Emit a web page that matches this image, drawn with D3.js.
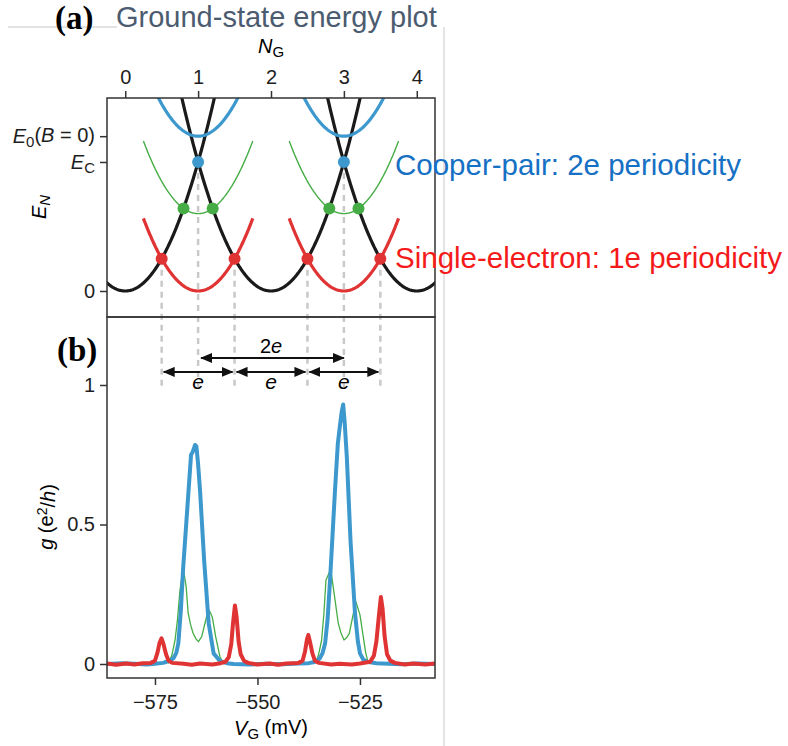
<!DOCTYPE html>
<html lang="en">
<head>
  <meta charset="UTF-8">
  <title>Ground-state energy plot</title>
  <script src="https://d3js.org/d3.v7.min.js"></script>
  <style>
    body { margin: 0; background: #fff; }
    svg { display: block; font-family: "Liberation Sans", Arial, sans-serif; }
    .axis text { font-size: 20px; fill: #1e1e1e; }
    .axis line { stroke: #333; stroke-width: 1.5; }
    .axis path { display: none; }
  </style>
</head>
<body>
<div id="chart"></div>
<script>
// ---- panel (a): charging-energy parabolas ----
const nTicks = [0, 1, 2, 3, 4];
const eTicks = [0, 1, 1.2];                 // 0, E_C, E_0(B=0)
const blackCentres = [0, 2, 4];             // even-parity ground state
const oddCentres = [1, 3];                  // odd / excited parabolas
const redOffset = 0, greenOffset = 0.6, blueOffset = 1.2;
const halfSpan = 0.75;                      // red & green branches drawn +-0.75
const blueDotsN = [1, 3];
const greenDotsN = [0.8, 1.2, 2.8, 3.2];
const redDotsN = [0.5, 1.5, 2.5, 3.5];
const dashN = [0.5, 1, 1.5, 2.5, 3, 3.5];

// ---- panel (b): conductance traces [V_G (mV), g (e^2/h)] ----
const vTicks = [-575, -550, -525];
const gTicks = [0, 0.5, 1];

const blueTrace = [
  [-586.7, 0.000], [-583, 0.003], [-580, 0.001], [-577, -0.002], [-575, 0.001],
  [-573, 0.004], [-572.2, 0.008], [-571.2, 0.013], [-570.5, 0.02], [-569.8, 0.04],
  [-569.3, 0.074], [-568.7, 0.19], [-568.1, 0.35], [-567.1, 0.56], [-566.2, 0.75],
  [-565.8, 0.76], [-565.2, 0.785], [-564.9, 0.78], [-564.5, 0.72], [-564.0, 0.62],
  [-563.0, 0.37], [-561.9, 0.146], [-560.7, 0.038], [-559.1, 0.01], [-557.5, 0.003],
  [-555.8, 0.000], [-552, -0.002], [-548, 0.001], [-544, -0.001], [-540, 0.002],
  [-537.5, 0.003], [-536.4, 0.006], [-535.5, 0.012], [-534.8, 0.02], [-534.1, 0.04],
  [-533.5, 0.074], [-532.9, 0.16], [-532.3, 0.30], [-531.1, 0.62], [-530.4, 0.79],
  [-530.0, 0.84], [-529.5, 0.90], [-529.1, 0.93], [-528.7, 0.86], [-528.2, 0.74],
  [-527.3, 0.44], [-526.2, 0.18], [-525.5, 0.08], [-525.0, 0.038], [-524.2, 0.016],
  [-523.3, 0.008], [-521, 0.003], [-518, 0.001], [-515, -0.001], [-511, 0.002],
  [-506.7, 0.000]
];

const greenPeakA = [
  [-571.75, 0.002], [-570.9, 0.03], [-570.1, 0.086], [-569.5, 0.16], [-568.9, 0.265],
  [-568.1, 0.343], [-567.4, 0.277], [-566.9, 0.182], [-566.3, 0.14], [-565.7, 0.11],
  [-565.0, 0.09], [-564.4, 0.08], [-563.6, 0.098], [-562.8, 0.146], [-562.0, 0.196],
  [-561.5, 0.185], [-561.0, 0.167], [-560.2, 0.098], [-559.15, 0.026], [-558.2, 0.0]
];
const greenPeakB = [
  [-535.6, 0.01], [-535.0, 0.04], [-534.35, 0.086], [-533.8, 0.18], [-533.3, 0.30],
  [-532.15, 0.34], [-531.3, 0.253], [-530.3, 0.146], [-529.6, 0.11], [-528.9, 0.086],
  [-528.2, 0.095], [-527.6, 0.11], [-526.6, 0.182], [-526.0, 0.223], [-525.0, 0.176],
  [-524.2, 0.098], [-523.6, 0.04], [-523.0, 0.005]
];

const redTrace = [
  [-586.7, 0.002], [-584.5, -0.003], [-582, 0.002], [-580, -0.002], [-578, 0.003],
  [-576, 0.004], [-575, 0.012], [-574.4, 0.04], [-573.9, 0.075], [-573.4, 0.092],
  [-572.9, 0.07], [-572.3, 0.035], [-571.7, 0.012], [-570.8, 0.004], [-568, 0.001],
  [-566, -0.003], [-564, 0.002], [-561, -0.002], [-559, 0.003], [-557.8, 0.008],
  [-557.0, 0.025], [-556.4, 0.07], [-556.0, 0.14], [-555.5, 0.21], [-555.1, 0.17],
  [-554.6, 0.08], [-554.1, 0.035], [-553.3, 0.012], [-552.3, 0.004], [-550, -0.002],
  [-547, 0.002], [-545, -0.003], [-543, 0.002], [-540, 0.004], [-539, 0.012],
  [-538.4, 0.045], [-537.9, 0.09], [-537.6, 0.104], [-537.2, 0.08], [-536.6, 0.038],
  [-536.0, 0.012], [-535, 0.004], [-532, -0.002], [-530, 0.001], [-527, -0.002],
  [-525, 0.002], [-522.5, 0.008], [-521.6, 0.03], [-521.0, 0.08], [-520.4, 0.17],
  [-519.9, 0.24], [-519.5, 0.2], [-519.0, 0.1], [-518.4, 0.035], [-517.6, 0.012],
  [-516.5, 0.004], [-514, -0.002], [-512, 0.002], [-509, -0.002], [-506.7, 0.002]
];

const colors = {
  black: '#1a1a1a', red: '#e03333', green: '#46ad46', blue: '#3d98cd',
  dash: '#c9c9c9', frame: '#333'
};

// Layout
const W = 788, H = 746;
const left = 107, right = 435;
const aTop = 98, aBottom = 317, bBottom = 678;

const svg = d3.select('#chart').append('svg')
  .attr('width', W).attr('height', H);

// Scales
const nScale = d3.scaleLinear().domain([-0.25, 4.25]).range([left, right]);
const eScale = d3.scaleLinear().domain([-0.2016, 1.496]).range([aBottom, aTop]);
const vScale = d3.scaleLinear().domain([-586.7, -506.7]).range([left, right]);
const gScale = d3.scaleLinear().domain([-0.0502, 1.2437]).range([bBottom, aBottom]);

// page decorations
svg.append('line').attr('x1', 8).attr('x2', 117).attr('y1', 27).attr('y2', 27)
  .attr('stroke', '#c8c8c8').attr('stroke-width', 1.2);
svg.append('line').attr('x1', 444).attr('x2', 444).attr('y1', 27).attr('y2', H)
  .attr('stroke', '#d2d2d2').attr('stroke-width', 1.2);

svg.append('text').attr('x', 55).attr('y', 29)
  .style('font-family', '"Liberation Serif", "Times New Roman", serif')
  .style('font-weight', 'bold').style('font-size', '33px').text('(a)');
svg.append('text').attr('x', 116).attr('y', 27)
  .style('font-size', '29px').attr('fill', '#4b5b70').text('Ground-state energy plot');
svg.append('text').attr('x', 57).attr('y', 361)
  .style('font-family', '"Liberation Serif", "Times New Roman", serif')
  .style('font-weight', 'bold').style('font-size', '33px').text('(b)');

// clip paths and arrow head
const defs = svg.append('defs');
defs.append('clipPath').attr('id', 'clipA').append('rect')
  .attr('x', left).attr('y', aTop).attr('width', right - left).attr('height', aBottom - aTop);
defs.append('clipPath').attr('id', 'clipB').append('rect')
  .attr('x', left).attr('y', aBottom).attr('width', right - left).attr('height', bBottom - aBottom);
defs.append('marker').attr('id', 'arrow')
  .attr('viewBox', '0 0 12 10').attr('refX', 11).attr('refY', 5)
  .attr('markerWidth', 12).attr('markerHeight', 10).attr('markerUnits', 'userSpaceOnUse')
  .attr('orient', 'auto-start-reverse')
  .append('path').attr('d', 'M0,0 L12,5 L0,10 Z').attr('fill', '#111');

// dashed guide lines from crossings down into panel (b)
svg.append('g').selectAll('line').data(dashN).join('line')
  .attr('x1', d => nScale(d)).attr('x2', d => nScale(d))
  .attr('y1', d => eScale(Number.isInteger(d) ? 1 : 0.25))
  .attr('y2', gScale(0.985))
  .attr('stroke', colors.dash).attr('stroke-width', 2.5).attr('stroke-dasharray', '6,5');

// ---- panel (a) curves ----
const gA = svg.append('g').attr('clip-path', 'url(#clipA)');
const eLine = d3.line().x(d => nScale(d[0])).y(d => eScale(d[1]));
const parabola = (c, off, lo, hi) =>
  d3.range(lo, hi + 1e-9, 0.01).map(n => [n, (n - c) ** 2 + off]);

blackCentres.forEach(c => {
  gA.append('path').attr('d', eLine(parabola(c, 0, c - 1.3, c + 1.3)))
    .attr('fill', 'none').attr('stroke', colors.black).attr('stroke-width', 3.2);
});
oddCentres.forEach(c => {
  gA.append('path').attr('d', eLine(parabola(c, greenOffset, c - halfSpan, c + halfSpan)))
    .attr('fill', 'none').attr('stroke', colors.green).attr('stroke-width', 1.4);
  gA.append('path').attr('d', eLine(parabola(c, blueOffset, c - 0.7, c + 0.7)))
    .attr('fill', 'none').attr('stroke', colors.blue).attr('stroke-width', 3.2);
  gA.append('path').attr('d', eLine(parabola(c, redOffset, c - halfSpan, c + halfSpan)))
    .attr('fill', 'none').attr('stroke', colors.red).attr('stroke-width', 3.2);
});

const dots = [
  ...blueDotsN.map(n => ({ n, e: 1, c: colors.blue })),
  ...greenDotsN.map(n => ({ n, e: (n - Math.round(n)) ** 2 + greenOffset, c: colors.green })),
  ...redDotsN.map(n => ({ n, e: 0.25, c: colors.red }))
];
gA.selectAll('circle').data(dots).join('circle')
  .attr('cx', d => nScale(d.n)).attr('cy', d => eScale(d.e)).attr('r', 6)
  .attr('fill', d => d.c);

// ---- panel (b) traces ----
const gB = svg.append('g').attr('clip-path', 'url(#clipB)');
const gLine = d3.line().x(d => vScale(d[0])).y(d => gScale(d[1]));
[greenPeakA, greenPeakB].forEach(tr => {
  gB.append('path').attr('d', gLine(tr)).attr('fill', 'none')
    .attr('stroke', colors.green).attr('stroke-width', 1.3).attr('stroke-linejoin', 'round');
});
gB.append('path').attr('d', gLine(blueTrace)).attr('fill', 'none')
  .attr('stroke', colors.blue).attr('stroke-width', 4).attr('stroke-linejoin', 'round');
gB.append('path').attr('d', gLine(redTrace)).attr('fill', 'none')
  .attr('stroke', colors.red).attr('stroke-width', 4).attr('stroke-linejoin', 'round');

// arrows
const eSpans = [[0.5, 1.5], [1.5, 2.5], [2.5, 3.5]];
const arrowG = svg.append('g');
arrowG.selectAll('line.e').data(eSpans).join('line')
  .attr('x1', d => nScale(d[0]) + 2).attr('x2', d => nScale(d[1]) - 2)
  .attr('y1', gScale(1.047)).attr('y2', gScale(1.047))
  .attr('stroke', '#111').attr('stroke-width', 2)
  .attr('marker-start', 'url(#arrow)').attr('marker-end', 'url(#arrow)');
arrowG.append('line')
  .attr('x1', nScale(1) + 3).attr('x2', nScale(3))
  .attr('y1', gScale(1.097)).attr('y2', gScale(1.097))
  .attr('stroke', '#111').attr('stroke-width', 2)
  .attr('marker-start', 'url(#arrow)').attr('marker-end', 'url(#arrow)');
arrowG.selectAll('text.e').data(eSpans).join('text')
  .attr('x', d => nScale((d[0] + d[1]) / 2)).attr('y', 389)
  .attr('text-anchor', 'middle').style('font-size', '21px').style('font-style', 'italic')
  .text('e');
const t2e = arrowG.append('text').attr('x', nScale(2)).attr('y', 353)
  .attr('text-anchor', 'middle').style('font-size', '20px');
t2e.append('tspan').text('2');
t2e.append('tspan').style('font-style', 'italic').text('e');

// frames
svg.append('rect').attr('x', left).attr('y', aTop).attr('width', right - left)
  .attr('height', aBottom - aTop).attr('fill', 'none').attr('stroke', colors.frame).attr('stroke-width', 1.5);
svg.append('rect').attr('x', left).attr('y', aBottom).attr('width', right - left)
  .attr('height', bBottom - aBottom).attr('fill', 'none').attr('stroke', colors.frame).attr('stroke-width', 1.5);

// axes
svg.append('g').attr('class', 'axis').attr('transform', `translate(0,${aTop})`)
  .call(d3.axisTop(nScale).tickValues(nTicks).tickSize(7).tickPadding(7).tickFormat(d3.format('d')));

const axA = svg.append('g').attr('class', 'axis').attr('transform', `translate(${left},0)`)
  .call(d3.axisLeft(eScale).tickValues(eTicks).tickSize(7).tickPadding(5).tickFormat(''));
axA.selectAll('.tick text').each(function (d) {
  const t = d3.select(this);
  if (d === 0) { t.text('0'); return; }
  if (d === 1) {
    t.append('tspan').style('font-style', 'italic').text('E');
    t.append('tspan').attr('dy', '0.25em').style('font-size', '15px').text('C');
    return;
  }
  t.append('tspan').style('font-style', 'italic').text('E');
  t.append('tspan').attr('dy', '0.25em').style('font-size', '15px').text('0');
  t.append('tspan').attr('dy', '-0.25em').text('(');
  t.append('tspan').style('font-style', 'italic').text('B');
  t.append('tspan').text(' = 0)');
});

svg.append('g').attr('class', 'axis').attr('transform', `translate(${left},0)`)
  .call(d3.axisLeft(gScale).tickValues(gTicks).tickSize(7).tickPadding(5)
    .tickFormat(d => (d === 0.5 ? '0.5' : d3.format('d')(d))));

svg.append('g').attr('class', 'axis').attr('transform', `translate(0,${bBottom})`)
  .call(d3.axisBottom(vScale).tickValues(vTicks).tickSize(7).tickPadding(10));

// axis titles
const nLab = svg.append('text').attr('x', nScale(2)).attr('y', 53)
  .attr('text-anchor', 'middle').style('font-size', '20px');
nLab.append('tspan').style('font-style', 'italic').text('N');
nLab.append('tspan').attr('dy', '0.25em').style('font-size', '15px').text('G');

const eLab = svg.append('text').attr('transform', 'translate(46,207) rotate(-90)')
  .attr('text-anchor', 'middle').style('font-size', '20px');
eLab.append('tspan').style('font-style', 'italic').text('E');
eLab.append('tspan').attr('dy', '0.25em').style('font-size', '15px').style('font-style', 'italic').text('N');

const gLab = svg.append('text').attr('transform', 'translate(53,517) rotate(-90)')
  .attr('text-anchor', 'middle').style('font-size', '20px');
gLab.append('tspan').style('font-style', 'italic').text('g');
gLab.append('tspan').text(' (e');
gLab.append('tspan').attr('dy', '-0.4em').style('font-size', '14px').text('2');
gLab.append('tspan').attr('dy', '0.4em').text('/');
gLab.append('tspan').style('font-style', 'italic').text('h');
gLab.append('tspan').text(')');

const vLab = svg.append('text').attr('x', nScale(2)).attr('y', 735)
  .attr('text-anchor', 'middle').style('font-size', '20px');
vLab.append('tspan').style('font-style', 'italic').text('V');
vLab.append('tspan').attr('dy', '0.25em').style('font-size', '15px').text('G');
vLab.append('tspan').attr('dy', '-0.25em').text(' (mV)');

// annotations
svg.append('text').attr('x', 395).attr('y', 175).style('font-size', '29.5px')
  .attr('fill', '#1670c4').text('Cooper-pair: 2e periodicity');
svg.append('text').attr('x', 395).attr('y', 268).style('font-size', '29.5px')
  .attr('fill', '#f41a1a').text('Single-electron: 1e periodicity');
</script>
</body>
</html>
